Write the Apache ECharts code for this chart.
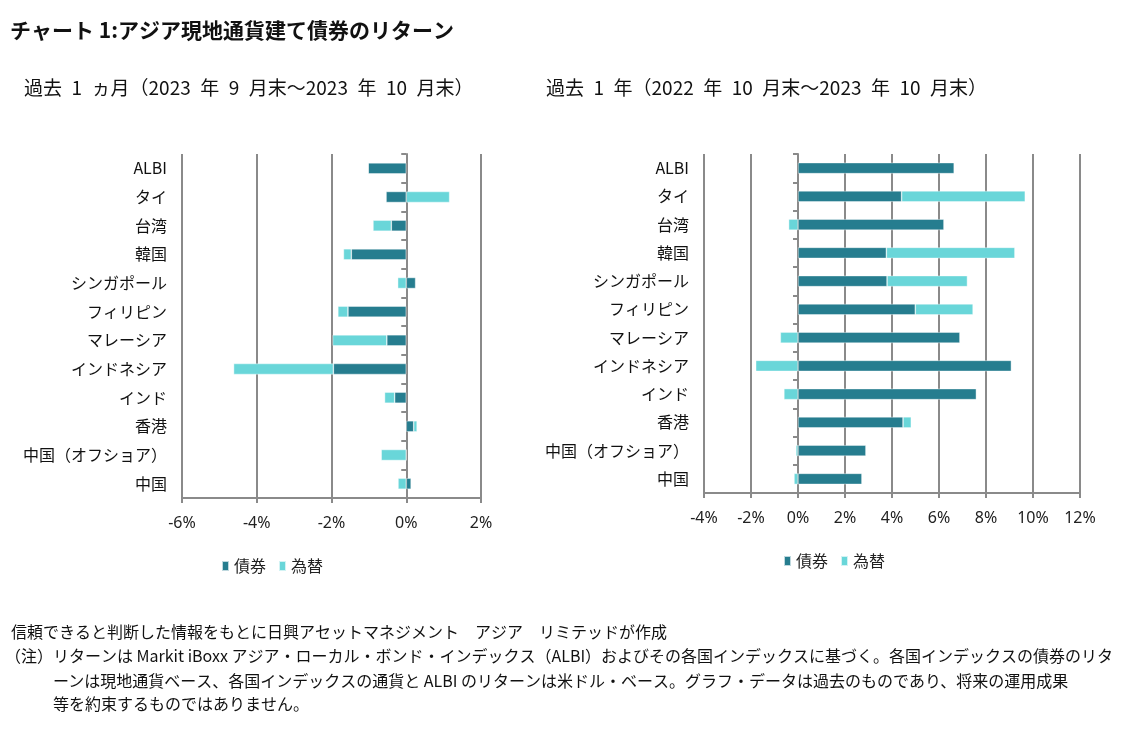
<!DOCTYPE html>
<html><head><meta charset="utf-8">
<script src="https://cdn.jsdelivr.net/npm/echarts@6/dist/echarts.min.js"></script>
<style>html,body{margin:0;padding:0;background:#fff}#c{width:1121px;height:744px}</style>
</head><body><div id="c"></div>
<script>
const categories = ['ALBI','タイ','台湾','韓国','シンガポール','フィリピン','マレーシア','インドネシア','インド','香港','中国（オフショア）','中国'];
const bond1m = [-1.02,-0.54,-0.40,-1.47,0.25,-1.56,-0.52,-1.95,-0.31,0.20,0.0,0.13];
const fx1m   = [0.0,1.16,-0.49,-0.21,-0.23,-0.27,-1.45,-2.67,-0.27,0.09,-0.67,-0.22];
const bond1y = [6.65,4.41,6.21,3.76,3.79,4.99,6.89,9.08,7.59,4.47,2.89,2.72];
const fx1y   = [0.0,5.26,-0.40,5.47,3.42,2.46,-0.75,-1.80,-0.60,0.35,-0.09,-0.17];
const ticks1m = {min:-6,max:2,interval:2};
const ticks1y = {min:-4,max:12,interval:2};
const seriesNames = ['債券','為替'];
const titleText = 'チャート 1:アジア現地通貨建て債券のリターン';
const sub1 = '過去\u20021\u2002ヵ月（2023\u2002年\u20029\u2002月末～2023\u2002年\u200210\u2002月末）';
const sub2 = '過去\u20021\u2002年（2022\u2002年\u200210\u2002月末～2023\u2002年\u200210\u2002月末）';
const notes = [
 '信頼できると判断した情報をもとに日興アセットマネジメント　アジア　リミテッドが作成',
 '（注）リターンは Markit iBoxx アジア・ローカル・ボンド・インデックス（ALBI）およびその各国インデックスに基づく。各国インデックスの債券のリタ',
 'ーンは現地通貨ベース、各国インデックスの通貨と ALBI のリターンは米ドル・ベース。グラフ・データは過去のものであり、将来の運用成果',
 '等を約束するものではありません。'
];

const FONT = '"Noto Sans CJK JP","Noto Sans",sans-serif';
const C_BOND = '#267d8f', C_FX = '#69d6d9', GRID = '#8a8a8a';

function xAx(idx, t){
  return {type:'value', gridIndex:idx, min:t.min, max:t.max, interval:t.interval,
    axisLine:{show:true, onZero:false, lineStyle:{color:GRID,width:2}},
    axisTick:{show:true, length:5, lineStyle:{color:GRID,width:2}},
    splitLine:{show:true, lineStyle:{color:GRID,width:2}},
    axisLabel:{formatter:v=>v+'%', color:'#222', fontSize:16, margin:17, fontFamily:'"Noto Sans",sans-serif'}};
}
function yAx(idx){
  return {type:'category', gridIndex:idx, data:categories, inverse:true,
    axisLine:{show:false, onZero:false}, axisTick:{show:false},
    axisLabel:{color:'#111', fontSize:16, margin:15, fontFamily:FONT}};
}
function yAxZero(idx){
  return {type:'category', gridIndex:idx, data:categories, inverse:true, position:'left',
    axisLine:{show:true, onZero:true, lineStyle:{color:GRID,width:2}},
    axisTick:{show:true, length:5, lineStyle:{color:GRID,width:2}},
    axisLabel:{show:false}};
}
function bar(name, data, xi, yi, color, stack){
  return {type:'bar', name:name, data:data, xAxisIndex:xi, yAxisIndex:yi, stack:stack,
    barWidth:11, itemStyle:{color:color, borderColor:'rgba(255,255,255,0.7)', borderWidth:0.6},
    emphasis:{disabled:true}};
}
const legendBase = {icon:'rect', itemWidth:7, itemHeight:10, itemGap:12,
  textStyle:{color:'#222', fontSize:16, fontFamily:FONT}, data:seriesNames};

const option = {
  animation:false,
  textStyle:{fontFamily:FONT},
  grid:[{left:182, right:640, top:154, bottom:246, containLabel:false},
        {left:704, right:41, top:154, bottom:251, containLabel:false}],
  xAxis:[xAx(0,ticks1m), xAx(1,ticks1y)],
  yAxis:[yAx(0), yAxZero(0), yAx(1), yAxZero(1)],
  legend:[Object.assign({left:216, top:553}, legendBase),
          Object.assign({left:778, top:548}, legendBase)],
  series:[
    bar(seriesNames[0], bond1m, 0, 0, C_BOND, 'a'),
    bar(seriesNames[1], fx1m, 0, 0, C_FX, 'a'),
    bar(seriesNames[0], bond1y, 1, 2, C_BOND, 'b'),
    bar(seriesNames[1], fx1y, 1, 2, C_FX, 'b')
  ],
  graphic:[
    {type:'text', left:10, top:20, style:{text:titleText, fill:'#111', font:'bold 21px '+FONT}},
    {type:'text', left:24, top:78, style:{text:sub1, fill:'#111', font:'19px '+FONT}},
    {type:'text', left:546, top:78, style:{text:sub2, fill:'#111', font:'19px '+FONT}},
    {type:'text', left:11, top:624, style:{text:notes[0], fill:'#111', font:'16px '+FONT}},
    {type:'text', left:5, top:648, style:{text:notes[1], fill:'#111', font:'16px '+FONT}},
    {type:'text', left:53, top:673, style:{text:notes[2], fill:'#111', font:'16px '+FONT}},
    {type:'text', left:53, top:696, style:{text:notes[3], fill:'#111', font:'16px '+FONT}}
  ]
};
const chart = echarts.init(document.getElementById('c'), null, {renderer:'canvas'});
chart.setOption(option);
</script></body></html>
